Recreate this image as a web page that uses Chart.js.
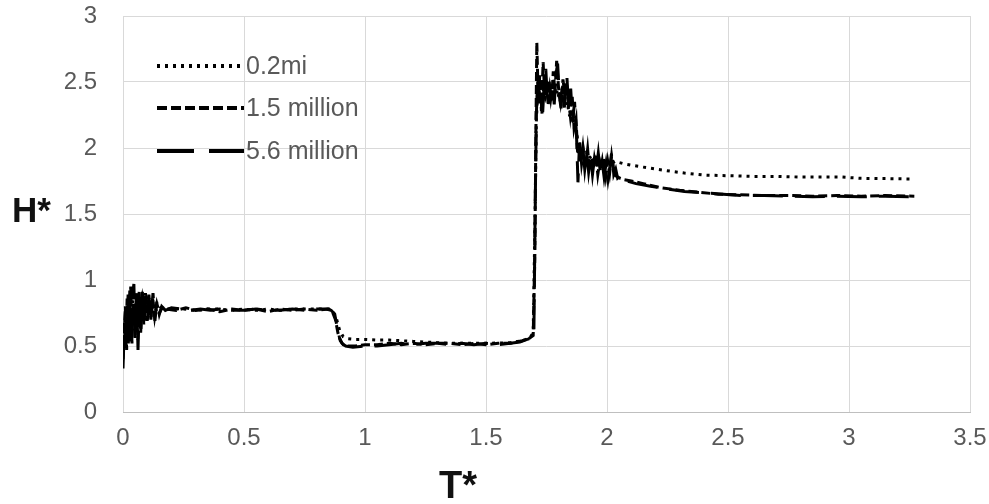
<!DOCTYPE html>
<html>
<head>
<meta charset="utf-8">
<script src="https://cdn.jsdelivr.net/npm/chart.js@4.4.1/dist/chart.umd.min.js"></script>
<style>
  html, body { margin: 0; padding: 0; background: #ffffff; }
  #wrap { width: 989px; height: 504px; }
</style>
</head>
<body>
<div id="wrap"><canvas id="c" width="989" height="504"></canvas></div>
<script>
// Axis ticks
const xTicks = [0, 0.5, 1, 1.5, 2, 2.5, 3, 3.5];
const yTicks = [0, 0.5, 1, 1.5, 2, 2.5, 3];

// Series labels
const seriesNames = ['0.2mi', '1.5 million', '5.6 million'];

// 0.2mi: time T* and height H*
const t02 = [0, 0.008, 0.016, 0.025, 0.034, 0.043, 0.052, 0.061, 0.070, 0.080, 0.090, 0.100, 0.112, 0.125, 0.140, 0.155, 0.17, 0.20, 0.25,
  0.30, 0.35, 0.40, 0.45, 0.50, 0.55, 0.60, 0.65, 0.70, 0.75, 0.80, 0.85, 0.865, 0.88, 0.895, 0.91, 0.93, 0.96, 1.0, 1.05, 1.10, 1.15,
  1.20, 1.25, 1.30, 1.35, 1.40, 1.50, 1.60, 1.65, 1.68, 1.695, 1.702, 1.708, 1.715, 1.725, 1.735, 1.745, 1.755, 1.765, 1.775, 1.785,
  1.795, 1.805, 1.815, 1.825, 1.835, 1.845, 1.855, 1.865, 1.875, 1.885, 1.895, 1.905, 1.915, 1.925, 1.935, 1.945, 1.955, 1.965, 1.975,
  1.985, 1.995, 2.005, 2.015, 2.025, 2.035, 2.05, 2.07, 2.10, 2.15, 2.24, 2.32, 2.40, 2.50, 2.60, 2.70, 2.80, 2.90, 2.97, 3.05, 3.15, 3.27];
const h02 = [0.50, 0.70, 0.62, 0.85, 0.70, 0.88, 0.74, 0.84, 0.72, 0.86, 0.74, 0.83, 0.75, 0.82, 0.76, 0.79, 0.78, 0.78, 0.78,
  0.77, 0.78, 0.78, 0.77, 0.78, 0.77, 0.78, 0.77, 0.78, 0.78, 0.78, 0.78, 0.77, 0.72, 0.62, 0.57, 0.555, 0.55, 0.55, 0.545, 0.545, 0.54,
  0.535, 0.53, 0.525, 0.52, 0.52, 0.52, 0.525, 0.54, 0.56, 0.60, 1.40, 2.20, 2.50, 2.35, 2.45, 2.38, 2.44, 2.36, 2.42, 2.38,
  2.44, 2.35, 2.40, 2.30, 2.35, 2.25, 2.25, 2.15, 2.10, 2.02, 2.00, 1.95, 1.97, 1.92, 1.94, 1.90, 1.93, 1.90, 1.92,
  1.89, 1.91, 1.89, 1.91, 1.89, 1.90, 1.89, 1.88, 1.87, 1.855, 1.83, 1.81, 1.795, 1.79, 1.785, 1.785, 1.78, 1.78, 1.78, 1.77, 1.768, 1.765];

// 1.5 million
const t15 = [0, 0.005, 0.010, 0.015, 0.021, 0.026, 0.032, 0.037, 0.043, 0.049, 0.055, 0.061, 0.067, 0.073, 0.079, 0.086, 0.093, 0.100,
  0.107, 0.115, 0.123, 0.131, 0.140, 0.150, 0.162, 0.18, 0.22, 0.26, 0.30, 0.35, 0.40, 0.45, 0.50, 0.55, 0.60, 0.65, 0.70, 0.75, 0.80,
  0.85, 0.865, 0.878, 0.888, 0.898, 0.91, 0.93, 0.96, 1.0, 1.05, 1.1, 1.15, 1.2, 1.25, 1.3, 1.35, 1.4, 1.45, 1.5, 1.55, 1.6, 1.65, 1.68,
  1.695, 1.702, 1.706, 1.710, 1.716, 1.722, 1.729, 1.736, 1.743, 1.750, 1.757, 1.764, 1.771, 1.778, 1.785, 1.792, 1.800, 1.808, 1.816,
  1.824, 1.832, 1.840, 1.848, 1.856, 1.864, 1.872, 1.879, 1.887, 1.895, 1.903, 1.912, 1.920, 1.928, 1.936, 1.945, 1.954, 1.962, 1.970,
  1.978, 1.986, 1.995, 2.003, 2.011, 2.019, 2.027, 2.035, 2.045, 2.055, 2.07, 2.10, 2.15, 2.22, 2.30, 2.38, 2.46, 2.55, 2.65, 2.75, 2.85,
  2.95, 3.05, 3.15, 3.27];
const h15 = [0.40, 0.58, 0.80, 0.47, 0.89, 0.60, 0.95, 0.52, 0.82, 0.62, 0.90, 0.55, 0.92, 0.60, 0.86, 0.66, 0.90, 0.69,
  0.89, 0.70, 0.86, 0.72, 0.82, 0.75, 0.79, 0.78, 0.77, 0.79, 0.77, 0.78, 0.76, 0.78, 0.77, 0.78, 0.76, 0.78, 0.77, 0.78, 0.77,
  0.78, 0.76, 0.70, 0.60, 0.54, 0.51, 0.50, 0.50, 0.51, 0.51, 0.52, 0.51, 0.52, 0.51, 0.52, 0.52, 0.51, 0.52, 0.51, 0.52, 0.52, 0.54, 0.56,
  0.58, 1.20, 2.10, 2.80, 2.35, 2.55, 2.28, 2.65, 2.40, 2.52, 2.32, 2.45, 2.36, 2.58, 2.42, 2.66, 2.45, 2.35, 2.48,
  2.30, 2.50, 2.38, 2.25, 2.40, 2.15, 2.22, 1.95, 2.05, 1.88, 1.98, 1.86, 1.99, 1.83, 1.93, 1.85, 1.95, 1.80, 1.90,
  1.84, 1.93, 1.79, 1.90, 1.81, 1.94, 1.83, 1.79, 1.78, 1.77, 1.76, 1.75, 1.73, 1.70, 1.68, 1.665, 1.65, 1.645, 1.64, 1.64, 1.635,
  1.64, 1.635, 1.64, 1.635];

// 5.6 million
const t56 = [0, 0.006, 0.011, 0.017, 0.022, 0.028, 0.033, 0.039, 0.045, 0.050, 0.056, 0.062, 0.068, 0.074, 0.080, 0.087, 0.094, 0.101,
  0.108, 0.116, 0.124, 0.132, 0.140, 0.150, 0.160, 0.175, 0.20, 0.24, 0.28, 0.32, 0.36, 0.40, 0.45, 0.50, 0.55, 0.60, 0.65, 0.70, 0.75,
  0.80, 0.84, 0.86, 0.875, 0.885, 0.895, 0.905, 0.92, 0.95, 1.0, 1.05, 1.10, 1.15, 1.20, 1.25, 1.30, 1.35, 1.40, 1.45, 1.50, 1.55, 1.60,
  1.64, 1.67, 1.69, 1.698, 1.703, 1.708, 1.714, 1.720, 1.726, 1.733, 1.740, 1.747, 1.754, 1.761, 1.768, 1.775, 1.782, 1.789, 1.796,
  1.803, 1.810, 1.818, 1.826, 1.834, 1.842, 1.850, 1.858, 1.866, 1.874, 1.880, 1.886, 1.893, 1.900, 1.908, 1.916, 1.924, 1.932, 1.940,
  1.948, 1.956, 1.964, 1.972, 1.980, 1.988, 1.996, 2.004, 2.012, 2.020, 2.028, 2.036, 2.044, 2.052, 2.06, 2.08, 2.12, 2.18, 2.25, 2.32,
  2.40, 2.48, 2.56, 2.65, 2.75, 2.85, 2.95, 3.05, 3.15, 3.27];
const h56 = [0.33, 0.68, 0.44, 0.86, 0.52, 0.92, 0.49, 0.88, 0.97, 0.56, 0.93, 0.47, 0.87, 0.63, 0.91, 0.68, 0.88, 0.70,
  0.86, 0.72, 0.90, 0.69, 0.84, 0.74, 0.80, 0.77, 0.79, 0.78, 0.77, 0.78, 0.77, 0.78, 0.77, 0.77, 0.78, 0.77, 0.77, 0.78, 0.77,
  0.78, 0.78, 0.77, 0.74, 0.64, 0.56, 0.52, 0.50, 0.49, 0.50, 0.50, 0.51, 0.52, 0.51, 0.52, 0.52, 0.51, 0.52, 0.51, 0.52, 0.51, 0.52,
  0.53, 0.55, 0.56, 0.62, 1.50, 2.25, 2.55, 2.30, 2.42, 2.22, 2.48, 2.60, 2.36, 2.50, 2.38, 2.47, 2.33, 2.55, 2.64,
  2.40, 2.30, 2.52, 2.40, 2.55, 2.28, 2.45, 2.20, 2.35, 2.10, 1.74, 2.02, 1.90, 2.00, 1.84, 1.97, 1.82, 1.94, 1.80,
  1.92, 1.84, 1.96, 1.82, 1.90, 1.78, 1.88, 1.76, 1.86, 1.98, 1.80, 1.84, 1.77, 1.78, 1.76, 1.75, 1.73, 1.71, 1.69, 1.67,
  1.66, 1.65, 1.64, 1.64, 1.635, 1.63, 1.635, 1.63, 1.635, 1.63];

const toPoints = (ts, hs) => ts.map((t, i) => ({ x: t, y: hs[i] }));

const FONT = "'Liberation Sans', Arial, sans-serif";
const TEXT_GREY = '#595959';
const GRID = '#d9d9d9';

const lineStyles = [
  { dash: [3, 5], width: 3 },   // dotted
  { dash: [9, 4], width: 3 },   // short dash
  { dash: [30, 12], width: 3 }  // long dash
];

// Draws the in-plot legend and the two axis titles
const decorations = {
  id: 'decorations',
  afterDraw(chart) {
    const ctx = chart.ctx;
    ctx.save();
    const rows = [66, 108, 151];
    const legendDash = [[3, 5], [10, 4], [37, 15]];
    rows.forEach((y, i) => {
      ctx.beginPath();
      ctx.setLineDash(legendDash[i]);
      ctx.lineWidth = 4;
      ctx.lineCap = 'butt';
      ctx.strokeStyle = '#000';
      ctx.moveTo(157, y);
      ctx.lineTo(244, y);
      ctx.stroke();
      ctx.setLineDash([]);
      ctx.fillStyle = TEXT_GREY;
      ctx.font = '25px ' + FONT;
      ctx.textAlign = 'left';
      ctx.textBaseline = 'middle';
      ctx.fillText(seriesNames[i], 246, y + 1);
    });
    ctx.fillStyle = '#111';
    ctx.textBaseline = 'alphabetic';
    ctx.font = 'bold 35px ' + FONT;
    ctx.textAlign = 'left';
    ctx.fillText('H*', 12, 222);
    ctx.font = 'bold 38px ' + FONT;
    ctx.textAlign = 'center';
    ctx.fillText('T*', 458, 498);
    ctx.restore();
  }
};

const datasets = [
  { label: seriesNames[2], data: toPoints(t56, h56), style: lineStyles[2] },
  { label: seriesNames[1], data: toPoints(t15, h15), style: lineStyles[1] },
  { label: seriesNames[0], data: toPoints(t02, h02), style: lineStyles[0] }
].map(d => ({
  label: d.label,
  data: d.data,
  showLine: true,
  borderColor: '#000',
  backgroundColor: '#000',
  borderWidth: d.style.width,
  borderDash: d.style.dash,
  borderCapStyle: 'butt',
  borderJoinStyle: 'miter',
  pointRadius: 0,
  tension: 0,
  fill: false
}));

const plainNumber = v => String(v);

new Chart(document.getElementById('c'), {
  type: 'scatter',
  data: { datasets },
  plugins: [decorations],
  options: {
    responsive: false,
    devicePixelRatio: 1,
    animation: false,
    layout: { padding: { top: 16, right: 19, left: 0, bottom: 0 } },
    plugins: { legend: { display: false }, tooltip: { enabled: false } },
    scales: {
      x: {
        type: 'linear',
        min: xTicks[0],
        max: xTicks[xTicks.length - 1],
        afterBuildTicks: s => { s.ticks = xTicks.map(v => ({ value: v })); },
        afterFit: s => { s.height = 92; },
        grid: { color: GRID, lineWidth: 1, drawTicks: true, tickLength: 12, tickColor: 'rgba(0,0,0,0)' },
        border: { color: '#bfbfbf', width: 1 },
        ticks: { color: TEXT_GREY, font: { family: FONT, size: 24 }, padding: 0, maxRotation: 0, callback: plainNumber }
      },
      y: {
        type: 'linear',
        min: yTicks[0],
        max: yTicks[yTicks.length - 1],
        afterBuildTicks: s => { s.ticks = yTicks.map(v => ({ value: v })); },
        afterFit: s => { s.width = 123; },
        grid: { color: GRID, lineWidth: 1, drawTicks: true, tickLength: 26, tickColor: 'rgba(0,0,0,0)' },
        border: { display: false },
        ticks: { color: TEXT_GREY, font: { family: FONT, size: 24 }, padding: 0, callback: plainNumber }
      }
    }
  }
});
</script>
</body>
</html>
